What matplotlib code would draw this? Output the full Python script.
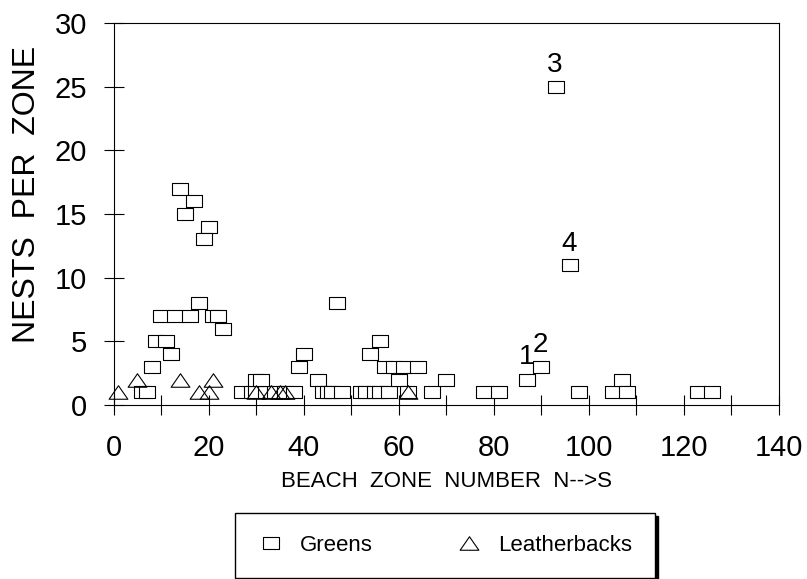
import numpy as np
import matplotlib
matplotlib.use("Agg")
import matplotlib.pyplot as plt
from matplotlib.path import Path

plt.rcParams["font.family"] = ["Liberation Sans", "DejaVu Sans"]

# nests per beach zone, green turtles
green_zone = [6, 7, 8, 9, 11, 12, 10, 13, 16, 14, 17, 15, 20, 19, 18, 21, 22, 23,
              27, 29, 30, 32, 34, 36, 38, 30, 31, 39, 40, 43, 47,
              44, 45, 46, 48, 52, 53, 55, 56, 58, 54, 56, 57, 59, 61, 64, 60, 62,
              67, 70, 78, 81, 87, 90, 93, 96, 98, 105, 107, 108, 123, 126]
green_nests = [1, 1, 3, 5, 5, 4, 7, 7, 7, 17, 16, 15, 14, 13, 8, 7, 7, 6,
               1, 1, 1, 1, 1, 1, 1, 2, 2, 3, 4, 2, 8,
               1, 1, 1, 1, 1, 1, 1, 1, 1, 4, 5, 3, 3, 3, 3, 2, 1,
               1, 2, 1, 1, 2, 3, 25, 11, 1, 1, 2, 1, 1, 1]

# leatherback nests
leather_zone = [1, 5, 14, 18, 20, 21, 30, 33, 35, 36, 62]
leather_nests = [1, 2, 2, 1, 1, 2, 1, 1, 1, 1, 1]

# numbered sites
site_labels = ["1", "2", "3", "4"]
site_x = [86.8, 89.8, 92.8, 95.8]
site_y = [3.8, 4.7, 26.7, 12.65]

box = Path([(-1, -0.69), (1, -0.69), (1, 0.69), (-1, 0.69), (-1, -0.69)],
           [Path.MOVETO, Path.LINETO, Path.LINETO, Path.LINETO, Path.CLOSEPOLY])
tri = Path([(-1, -0.72), (1, -0.72), (0, 0.72), (-1, -0.72)],
           [Path.MOVETO, Path.LINETO, Path.LINETO, Path.CLOSEPOLY])

fig = plt.figure(figsize=(8.07, 5.79), dpi=100)
ax = fig.add_axes([0.1409, 0.3005, 0.8244, 0.6598])

ax.plot(green_zone, green_nests, ls="none", marker=box, ms=11.5,
        mfc="white", mec="black", mew=0.8, label="Greens", clip_on=False)
ax.plot(leather_zone, leather_nests, ls="none", marker=tri, ms=13.5,
        mfc="none", mec="black", mew=0.8, label="Leatherbacks", clip_on=False)

for lab, x, y in zip(site_labels, site_x, site_y):
    ax.text(x, y, lab, fontsize=20, ha="center", va="center")

ax.set_xlim(0, 140)
ax.set_ylim(0, 30)
ax.set_xticks(np.arange(0, 141, 20))
ax.set_xticks(np.arange(10, 140, 20), minor=True)
ax.set_yticks(np.arange(0, 31, 5))
ax.tick_params(axis="both", which="both", direction="inout", length=14,
               width=0.8, labelsize=21)
ax.tick_params(axis="x", pad=14)
ax.tick_params(axis="y", pad=12)
for sp in ax.spines.values():
    sp.set_linewidth(0.8)

ax.set_ylabel("NESTS  PER  ZONE", fontsize=23, va="center")
ax.yaxis.set_label_coords(-0.13, 0.55)
ax.set_xlabel("BEACH  ZONE  NUMBER  N-->S", fontsize=16, va="center")
ax.xaxis.set_label_coords(0.5, -0.2)

fig.legend(loc="upper left", bbox_to_anchor=(235 / 807, 1 - 513 / 579),
           ncol=2, fontsize=16, frameon=True, fancybox=False,
           edgecolor="black", borderaxespad=0, borderpad=1.0,
           handlelength=1.2, handletextpad=0.74, columnspacing=3.7,
           shadow={"color": "black", "alpha": 1})

fig.savefig("out.png", dpi=100)
